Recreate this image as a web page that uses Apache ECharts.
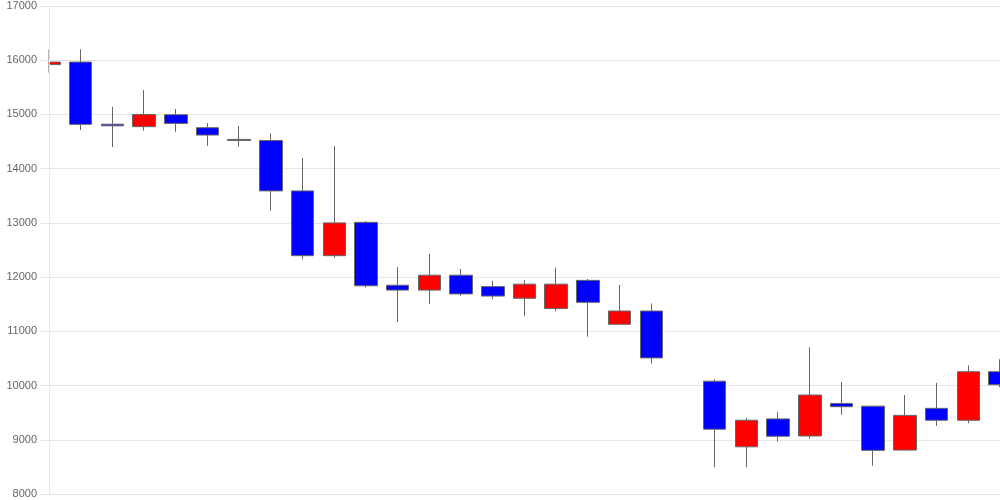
<!DOCTYPE html>
<html>
<head>
<meta charset="utf-8">
<script src="https://cdn.jsdelivr.net/npm/echarts@6/dist/echarts.min.js"></script>
<style>
  html, body { margin: 0; padding: 0; background: #fff; }
  #chart { width: 1000px; height: 500px; }
</style>
</head>
<body>
<div id="chart"></div>
<script>
// 日付ラベル（表示なし）
const days = Array.from({ length: 31 }, (_, i) => 'd' + (i + 1))

// 四本値
const opens  = [15920, 15966, 14820, 14775, 14995, 14755, 14540, 14520, 13590, 12395, 13010, 11850, 11760, 12035, 11825, 11610, 11420, 11940, 11130, 11375, null, 10080, 8870, 9385, 9070, 9670, 9620, 8810, 9580, 9360, 10255]
const closes = [15966, 14817, 14790, 15000, 14835, 14620, 14520, 13590, 12395, 13000, 11840, 11760, 12035, 11690, 11650, 11870, 11870, 11535, 11375, 10510, null, 9195, 9360, 9065, 9825, 9610, 8805, 9450, 9360, 10255, 10015]
const lows   = [15770, 14712, 14400, 14700, 14680, 14420, 14405, 13225, 12330, 12355, 11805, 11170, 11505, 11655, 11590, 11280, 11370, 10900, 11125, 10405, null, 8490, 8490, 8965, 9020, 9460, 8520, 8805, 9255, 9305, 9970]
const highs  = [16200, 16200, 15140, 15450, 15100, 14840, 14790, 14650, 14200, 14420, 13035, 12185, 12430, 12150, 11930, 11945, 12175, 11965, 11855, 11515, null, 10115, 9400, 9510, 10705, 10070, 9620, 9825, 10050, 10375, 10485]

const yTicks = [8000, 17000, 1000] // min, max, interval

const candleData = days.map((d, i) =>
  opens[i] == null ? '-' : [opens[i], closes[i], lows[i], highs[i]]
)

const chart = echarts.init(document.getElementById('chart'))
chart.setOption({
  animation: false,
  grid: { left: 49, right: 0, top: 6, bottom: 6 },
  // 左端からはみ出したローソクを隠す
  graphic: [{
    type: 'rect',
    z: 5,
    shape: { x: 0, y: 0, width: 48.5, height: 500 },
    style: { fill: '#fff' }
  }],
  xAxis: {
    type: 'category',
    data: days,
    boundaryGap: false,
    axisLine: { show: false },
    axisTick: { show: false },
    axisLabel: { show: false },
    splitLine: { show: false }
  },
  yAxis: [
    {
      // グリッド線のみ（ローソクの下）
      type: 'value',
      min: yTicks[0],
      max: yTicks[1],
      interval: yTicks[2],
      position: 'left',
      z: 0,
      axisLine: { show: false },
      axisTick: { show: false },
      axisLabel: { show: false },
      splitLine: { lineStyle: { color: '#e6e6e6' } }
    },
    {
      // 目盛ラベルと軸線（前面）
      type: 'value',
      min: yTicks[0],
      max: yTicks[1],
      interval: yTicks[2],
      position: 'left',
      offset: 0,
      z: 10,
      axisLine: { show: true, lineStyle: { color: '#e6e6e6' } },
      axisTick: { show: true, length: 8, lineStyle: { color: '#e6e6e6' } },
      axisLabel: {
        color: '#666',
        fontSize: 11,
        fontFamily: 'Liberation Sans',
        margin: 12,
        formatter: (v) => String(v)
      },
      splitLine: { show: false }
    }
  ],
  series: [{
    type: 'candlestick',
    data: candleData,
    yAxisIndex: 0,
    barWidth: 23,
    itemStyle: {
      color: '#ff0000',
      color0: '#0000ff',
      borderColor: '#666',
      borderColor0: '#666',
      borderWidth: 1
    }
  }]
})
</script>
</body>
</html>
